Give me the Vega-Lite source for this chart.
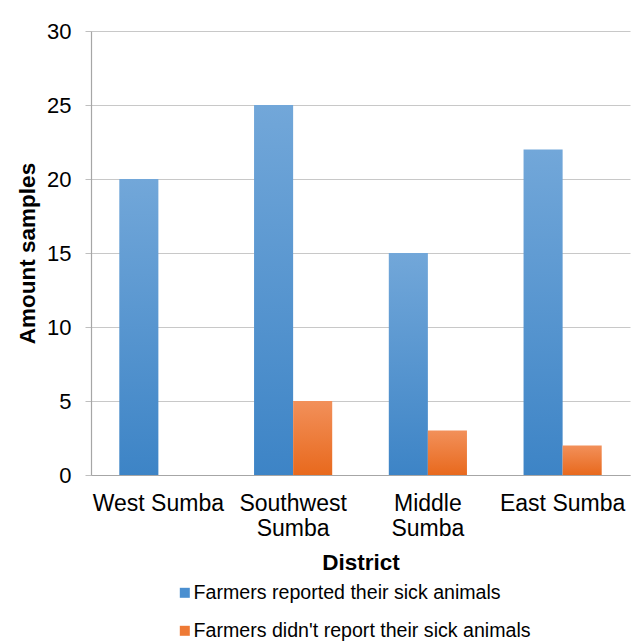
{
  "$schema": "https://vega.github.io/schema/vega-lite/v6.json",
  "width": 539,
  "height": 444,
  "autosize": "none",
  "padding": {"left": 91, "top": 31, "right": 5, "bottom": 168},
  "background": "white",
  "config": {
    "font": "Liberation Sans",
    "view": {"stroke": null}
  },
  "data": {
    "values": [
      {"District": "West Sumba", "Series": "Farmers reported their sick animals", "Amount": 20},
      {"District": "West Sumba", "Series": "Farmers didn't report their sick animals", "Amount": 0},
      {"District": "Southwest Sumba", "Series": "Farmers reported their sick animals", "Amount": 25},
      {"District": "Southwest Sumba", "Series": "Farmers didn't report their sick animals", "Amount": 5},
      {"District": "Middle Sumba", "Series": "Farmers reported their sick animals", "Amount": 15},
      {"District": "Middle Sumba", "Series": "Farmers didn't report their sick animals", "Amount": 3},
      {"District": "East Sumba", "Series": "Farmers reported their sick animals", "Amount": 22},
      {"District": "East Sumba", "Series": "Farmers didn't report their sick animals", "Amount": 2}
    ]
  },
  "encoding": {
    "x": {
      "field": "District",
      "type": "nominal",
      "sort": ["West Sumba", "Southwest Sumba", "Middle Sumba", "East Sumba"],
      "scale": {"paddingInner": 0.42, "paddingOuter": 0.21},
      "axis": {
        "title": "District",
        "titleFontSize": 22.5,
        "titleFontWeight": "bold",
        "titleColor": "#000000",
        "titleBaseline": "alphabetic",
        "titleY": 94,
        "labelAngle": 0,
        "labelFontSize": 23,
        "labelColor": "#000000",
        "labelLineHeight": 25,
        "labelBaseline": "alphabetic",
        "labelPadding": 35,
        "labelExpr": "datum.value == 'Southwest Sumba' || datum.value == 'Middle Sumba' ? split(datum.value, ' ') : datum.value",
        "ticks": false,
        "domainColor": "#a6a6a6",
        "domainWidth": 1.2,
        "grid": false
      }
    },
    "xOffset": {
      "field": "Series",
      "type": "nominal",
      "sort": ["Farmers reported their sick animals", "Farmers didn't report their sick animals"]
    },
    "y": {
      "field": "Amount",
      "type": "quantitative",
      "scale": {"domain": [0, 30], "nice": false},
      "axis": {
        "title": "Amount samples",
        "titleFontSize": 22.5,
        "titleFontWeight": "bold",
        "titleColor": "#000000",
        "titleBaseline": "alphabetic",
        "titleAlign": "center",
        "titleAngle": -90,
        "titleX": -57,
        "titleY": 222,
        "values": [0, 5, 10, 15, 20, 25, 30],
        "labelFontSize": 22,
        "labelColor": "#000000",
        "labelPadding": 14,
        "tickSize": 6,
        "tickColor": "#bfbfbf",
        "domainColor": "#a6a6a6",
        "domainWidth": 1.2,
        "gridColor": "#c8c8c8",
        "gridWidth": 1
      }
    }
  },
  "layer": [
    {
      "mark": {"type": "bar", "opacity": 0},
      "encoding": {
        "color": {
          "field": "Series",
          "type": "nominal",
          "sort": ["Farmers reported their sick animals", "Farmers didn't report their sick animals"],
          "scale": {"range": ["#4a8fd0", "#ee7a35"]},
          "legend": {
            "title": null,
            "orient": "none",
            "legendX": 84,
            "legendY": 552,
            "direction": "vertical",
            "symbolType": "square",
            "symbolSize": 100,
            "symbolStrokeWidth": 0,
            "symbolOpacity": 1,
            "labelFontSize": 19.6,
            "labelColor": "#000000",
            "labelOffset": -1,
            "rowPadding": 17,
            "labelLimit": 500,
            "padding": 0
          }
        }
      }
    },
    {
      "mark": {"type": "bar"},
      "encoding": {
        "fill": {
          "condition": {
            "test": "datum.Series == 'Farmers reported their sick animals'",
            "value": {"gradient": "linear", "x1": 0, "y1": 0, "x2": 0, "y2": 1, "stops": [{"offset": 0, "color": "#72a7d9"}, {"offset": 1, "color": "#3d84c6"}]}
          },
          "value": {"gradient": "linear", "x1": 0, "y1": 0, "x2": 0, "y2": 1, "stops": [{"offset": 0, "color": "#f2905a"}, {"offset": 1, "color": "#e8691d"}]}
        }
      }
    }
  ]
}
